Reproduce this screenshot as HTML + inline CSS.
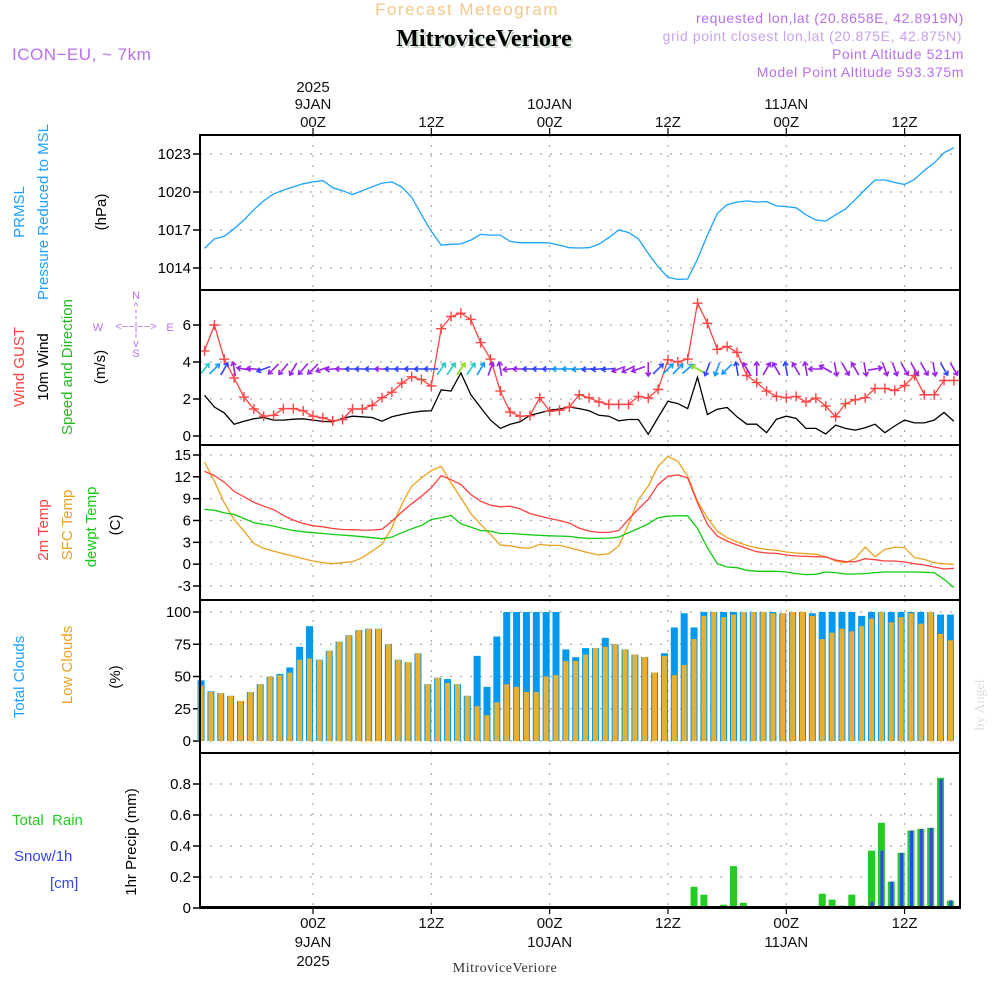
<!DOCTYPE html>
<html><head><meta charset="utf-8"><style>
html,body{margin:0;padding:0;background:#fff;}
svg{display:block;font-family:"Liberation Sans",sans-serif;}
</style></head><body>
<svg id="svg" width="1000" height="1000" viewBox="0 0 1000 1000" xmlns="http://www.w3.org/2000/svg">
<g>
<text x="467" y="15" text-anchor="middle" font-size="17" fill="#f2c98a" letter-spacing="1.5">Forecast Meteogram</text>
<text x="486" y="48" text-anchor="middle" font-size="24" font-weight="bold" font-family="Liberation Serif,serif" fill="#c8d8c8">MitroviceVeriore</text>
<text x="484" y="46" text-anchor="middle" font-size="24" font-weight="bold" font-family="Liberation Serif,serif" fill="#000">MitroviceVeriore</text>
<text x="12" y="60" font-size="17" fill="#b870f0" letter-spacing="0.5">ICON−EU, ~ 7km</text>
<g font-size="14" fill="#b870f0" text-anchor="end" letter-spacing="0.6">
<text x="964" y="23">requested lon,lat (20.8658E, 42.8919N)</text>
<text x="962" y="41" fill="#c9a0f0">grid point closest lon,lat (20.875E, 42.875N)</text>
<text x="964" y="59">Point Altitude 521m</text>
<text x="964" y="77">Model Point Altitude 593.375m</text>
</g>
</g>
<g id="plots"></g>
<g id="labels" font-size="15"></g>
</svg>
<script>
const pressure=[1015.55,1016.3,1016.5,1017.1,1017.8,1018.6,1019.3,1019.85,1020.15,1020.4,1020.65,1020.8,1020.9,1020.35,1020.1,1019.8,1020.1,1020.4,1020.7,1020.8,1020.4,1019.6,1018.2,1016.9,1015.8,1015.87,1015.9,1016.2,1016.65,1016.6,1016.6,1016.1,1016.0,1016.0,1016.0,1015.97,1015.8,1015.6,1015.58,1015.6,1015.87,1016.4,1017.0,1016.8,1016.3,1015.15,1014.1,1013.26,1013.1,1013.13,1014.7,1016.6,1018.3,1019.0,1019.2,1019.3,1019.2,1019.25,1018.9,1018.85,1018.75,1018.2,1017.8,1017.7,1018.2,1018.65,1019.4,1020.2,1020.95,1020.95,1020.75,1020.6,1021.0,1021.7,1022.3,1023.1,1023.5];
const gust=[4.6,6.0,4.15,3.14,2.1,1.46,1.07,1.12,1.48,1.48,1.36,1.07,0.98,0.82,0.89,1.46,1.46,1.66,2.07,2.37,2.86,3.2,3.05,2.71,5.8,6.46,6.64,6.3,5.05,4.16,2.43,1.29,1.07,1.1,2.07,1.34,1.39,1.57,2.23,2.07,1.84,1.71,1.71,1.71,2.14,2.05,2.52,4.12,4.0,4.16,7.18,6.09,4.68,4.84,4.52,3.27,2.89,2.43,2.14,2.07,2.14,1.84,2.05,1.62,1.04,1.75,1.96,2.07,2.57,2.57,2.46,2.73,3.27,2.23,2.23,3.0,3.0];
const wind10=[2.2,1.57,1.25,0.64,0.8,0.93,1.0,0.86,0.86,0.91,0.93,0.86,0.79,0.77,0.95,1.07,1.04,1.0,0.8,1.04,1.16,1.27,1.34,1.36,2.5,2.43,3.41,2.23,1.54,0.86,0.41,0.63,0.77,1.12,1.25,1.39,1.46,1.57,1.48,1.36,1.12,1.07,0.82,0.89,0.89,0.09,1.0,1.88,1.75,1.48,3.18,1.16,1.45,1.54,1.04,0.64,0.64,0.18,0.91,1.07,0.95,0.41,0.41,0.11,0.59,0.41,0.32,0.45,0.64,0.18,0.54,0.86,0.71,0.71,0.86,1.27,0.8];
const windDir=[50,45,60,100,170,175,200,225,230,240,230,225,200,185,180,180,180,180,180,180,180,180,180,180,55,55,55,55,60,70,100,185,180,180,180,180,180,180,185,185,185,185,200,205,200,270,45,45,45,40,150,250,250,225,100,120,90,60,120,100,120,100,180,150,280,300,120,280,10,290,290,300,300,300,280,300,300];
const temp2m=[12.76,12.17,11.26,10.0,9.25,8.5,7.97,7.5,6.7,6.05,5.6,5.27,5.14,4.9,4.77,4.73,4.68,4.68,4.8,5.9,7.15,8.3,9.34,10.5,12.17,11.6,10.94,9.57,8.65,8.1,7.88,7.97,7.6,6.96,6.6,6.28,6.0,5.64,4.95,4.54,4.36,4.36,4.63,6.14,7.6,8.88,10.94,12.08,12.26,11.85,8.42,5.46,3.86,3.17,2.63,2.17,1.71,1.53,1.48,1.26,1.12,1.07,1.03,0.98,0.57,0.34,0.34,0.75,0.62,0.43,0.43,0.3,0.07,-0.11,-0.39,-0.66,-0.57];
const tempSfc=[14.04,11.4,8.42,6.14,4.54,2.85,2.17,1.8,1.44,1.12,0.75,0.43,0.2,0.07,0.2,0.34,0.89,1.8,2.72,5.0,8.2,10.7,11.85,12.85,13.45,11.16,9.1,6.96,5.46,4.09,2.63,2.53,2.26,2.21,2.72,2.58,2.58,2.26,1.9,1.53,1.26,1.44,2.49,5.46,8.88,10.7,13.45,14.82,14.13,12.08,8.65,6.37,4.54,3.63,3.04,2.58,2.26,2.03,1.9,1.67,1.53,1.44,1.35,1.03,0.43,0.2,0.8,2.35,1.03,2.03,2.35,2.26,0.89,0.66,0.2,0.07,-0.02];
const dewpt=[7.51,7.42,7.05,6.83,6.28,5.68,5.46,5.23,4.9,4.63,4.45,4.32,4.22,4.09,4.0,3.9,3.77,3.63,3.5,3.72,4.32,4.86,5.32,6.14,6.37,6.69,5.55,5.09,4.63,4.54,4.22,4.22,4.13,4.04,3.95,3.9,3.86,3.81,3.63,3.54,3.54,3.58,3.72,4.32,4.9,5.55,6.37,6.6,6.64,6.64,4.9,2.26,0.07,-0.39,-0.48,-0.84,-0.98,-0.98,-0.98,-1.07,-1.3,-1.44,-1.39,-1.07,-1.16,-1.35,-1.35,-1.3,-1.16,-1.07,-1.07,-1.07,-1.07,-1.12,-1.16,-2.08,-3.2];
const totalClouds=[47,38.5,37,35,31,38,44,50,52,57,73,89,63,70,77,82,86,87,87,75,63,61,68,44,49,48,44,35,66,42,81,100,100,100,100,100,100,71,65,72,72,80,75,71,67,65,53,68,88,99,88,100,100,100,100,100,100,100,100,99,100,100,99,100,100,100,100,97,100,100,100,100,100,100,100,98,98];
const lowClouds=[43,38,37,35,31,38,44,50,51,53,63,64,63,70,77,82,86,87,87,75,63,61,68,44,49,45,44,35,27,20,30,44,42,38,38,50,51,62,62,67,72,73,75,71,67,65,53,66,51,59,79,97,100,96,98,100,100,100,99,99,100,100,97,79,84,87,85,89,95,100,92,96,99,91,100,83,78];
const rain=[0,0,0,0,0,0,0,0,0,0,0,0,0,0,0,0,0,0,0,0,0,0,0,0,0,0,0,0,0,0,0,0,0,0,0,0,0,0,0,0,0,0,0,0,0,0,0,0,0,0,0.137,0.086,0,0.021,0.27,0.034,0,0,0,0,0,0,0,0.092,0.054,0.015,0.086,0.015,0.37,0.55,0.17,0.356,0.5,0.51,0.517,0.84,0.047];
const snow=[0,0,0,0,0,0,0,0,0,0,0,0,0,0,0,0,0,0,0,0,0,0,0,0,0,0,0,0,0,0,0,0,0,0,0,0,0,0,0,0,0,0,0,0,0,0,0,0,0,0,0,0,0,0,0,0,0,0,0,0,0,0,0,0,0,0,0,0,0.04,0.37,0.17,0.356,0.5,0.51,0.517,0.83,0.05];
const timeTickHours=[0,12,24,36,48,60];
const timeTickLabels=["00Z","12Z","00Z","12Z","00Z","12Z"];
const dayLabels=["9JAN","","10JAN","","11JAN",""];
const pressTicks=[1014,1017,1020,1023];
const windTicks=[0,2,4,6];
const tempTicks=[-3,0,3,6,9,12,15];
const cloudTicks=[0,25,50,75,100];
const precipTicks=[0,0.2,0.4,0.6,0.8];

const NS="http://www.w3.org/2000/svg";
const plots=document.getElementById('plots');
const labels=document.getElementById('labels');
const X0=200,X1=960;
function xT(i){return 313+9.86*(i-11);}
function xH(h){return 313+9.86*h;}
function mk(tag,attrs,parent){const e=document.createElementNS(NS,tag);for(const k in attrs)e.setAttribute(k,attrs[k]);(parent||plots).appendChild(e);return e;}
function scale(v0,y0,v1,y1){return v=>y0+(v-v0)*(y1-y0)/(v1-v0);}
const yP=scale(1014,268,1023,154);
const yW=scale(0,436,6,325);
const yTp=scale(15,455,-3,586);
const yC=scale(0,741,100,612);
const yR=scale(0,908,0.8,784);

const panels=[
 {name:'pressure',top:135,bot:290,ticks:pressTicks,y:yP,fmt:v=>v},
 {name:'wind',top:290,bot:445,ticks:windTicks,y:yW,fmt:v=>v},
 {name:'temperature',top:445,bot:600,ticks:tempTicks,y:yTp,fmt:v=>v},
 {name:'clouds',top:600,bot:753,ticks:cloudTicks,y:yC,fmt:v=>v},
 {name:'precip',top:753,bot:908,ticks:precipTicks,y:yR,fmt:v=>v===0?'0':v.toFixed(1)}
];
panels.forEach(p=>{
 const g=mk('g',{});
 
 
 p.ticks.forEach(v=>{
  const y=p.y(v);
  const l=mk('line',{x1:X0,x2:X1,y1:y,y2:y,stroke:'#aaa','stroke-width':1.2,'stroke-dasharray':'2 8'},g);
  
  
  const tk=mk('line',{x1:X0-7,x2:X0,y1:y,y2:y,stroke:'#000','stroke-width':1.5},g);
  
  
  const t=mk('text',{x:X0-9,y:y+5,'text-anchor':'end','font-size':15,fill:'#000'},g);
  t.textContent=p.fmt(v);
  
  
 });
 timeTickHours.forEach(h=>{
  const x=xH(h);
  const l=mk('line',{x1:x,x2:x,y1:p.top,y2:p.bot,stroke:'#aaa','stroke-width':1.2,'stroke-dasharray':'2 8'},g);
  
  
 });
});
function poly(arr,yf,color,name,w){
 const pts=arr.map((v,i)=>xT(i).toFixed(1)+','+yf(v).toFixed(1)).join(' ');
 const e=mk('polyline',{points:pts,fill:'none',stroke:color,'stroke-width':w||1.3});
 
 
 return e;
}
poly(pressure,yP,'#1aa3ff','pressure-line');
poly(wind10,yW,'#000','wind10m-line');
poly(gust,yW,'#ff4444','wind-gust-line');
gust.forEach((v,i)=>{
 const x=xT(i),y=yW(v);
 const m=mk('path',{d:`M${x-5},${y}H${x+5}M${x},${y-5}V${y+5}`,stroke:'#ff4444','stroke-width':1.4});
 
 
});
function wcol(s){return s<1?'#9922ee':s<1.4?'#3344ff':s<2?'#1199ff':s<3?'#22cccc':'#88dd22';}
windDir.forEach((d,i)=>{
 const x=xT(i),y=369,L=14,a=d*Math.PI/180;
 const dx=Math.cos(a)*L,dy=-Math.sin(a)*L;
 const x0=x-dx/2,y0=y-dy/2,x1=x+dx/2,y1=y+dy/2;
 const ha=4.5,b1=a+Math.PI*0.8,b2=a-Math.PI*0.8;
 const col=wcol(wind10[i]);
 const e=mk('path',{d:`M${x0},${y0}L${x1},${y1}M${x1+Math.cos(b1)*ha},${y1-Math.sin(b1)*ha}L${x1},${y1}L${x1+Math.cos(b2)*ha},${y1-Math.sin(b2)*ha}`,stroke:col,'stroke-width':1.6,fill:'none'});
 
 
});
poly(tempSfc,yTp,'#eaa320','sfc-temp-line');
poly(temp2m,yTp,'#ff4040','temp-2m-line');
poly(dewpt,yTp,'#11cc11','dewpoint-line');
totalClouds.forEach((v,i)=>{
 const x=xT(i);
 const r=mk('rect',{x:x-7,y:yC(v),width:7,height:yC(0)-yC(v),fill:'#0099ee'});
 
 
 const lv=lowClouds[i];
 const r2=mk('rect',{x:x-6,y:yC(lv),width:5,height:yC(0)-yC(lv),fill:'#e8b030'});
 
 
});
rain.forEach((v,i)=>{
 if(v<=0)return;
 const x=xT(i);
 const r=mk('rect',{x:x-7,y:yR(v),width:7,height:yR(0)-yR(v),fill:'#22cc22'});
 
 
});
snow.forEach((v,i)=>{
 if(v<=0)return;
 const x=xT(i);
 const r=mk('rect',{x:x-4.5,y:yR(v),width:3,height:yR(0)-yR(v),fill:'#3344ee'});
 
 
});
const base=mk('line',{x1:X0,x2:X1,y1:907,y2:907,stroke:'#000','stroke-width':2});


panels.forEach(p=>{
 const r=mk('rect',{x:X0,y:p.top,width:X1-X0,height:p.bot-p.top,fill:'none',stroke:'#000','stroke-width':2});
 
 
});
timeTickHours.forEach((h,k)=>{
 const x=xH(h);
 const t1=mk('line',{x1:x,x2:x,y1:128,y2:135,stroke:'#000','stroke-width':1.2},labels);
 
 
 const t2=mk('line',{x1:x,x2:x,y1:908,y2:914,stroke:'#000','stroke-width':1.2},labels);
 
 
 const a=mk('text',{x:x,y:127,'text-anchor':'middle',fill:'#111'},labels);
 a.textContent=timeTickLabels[k];
 
 
 const b=mk('text',{x:x,y:928,'text-anchor':'middle',fill:'#111'},labels);
 b.textContent=timeTickLabels[k];
 
 
 if(dayLabels[k]){
  const c=mk('text',{x:x,y:109,'text-anchor':'middle',fill:'#111'},labels);
  c.textContent=dayLabels[k];
  
  
  const d=mk('text',{x:x,y:947,'text-anchor':'middle',fill:'#111'},labels);
  d.textContent=dayLabels[k];
  
  
 }
});
</script>
<svg style="position:absolute;left:0;top:0" width="1000" height="1000">
<g font-family="Liberation Sans,sans-serif" font-size="15">
<text x="313" y="92" text-anchor="middle" fill="#111">2025</text>
<text x="313" y="966" text-anchor="middle" fill="#111">2025</text>
<text x="505" y="972" text-anchor="middle" font-size="14" font-family="Liberation Serif,serif" fill="#333" letter-spacing="0.5">MitroviceVeriore</text>
<text transform="translate(24,212) rotate(-90)" text-anchor="middle" fill="#1aa3ff">PRMSL</text>
<text transform="translate(48,212) rotate(-90)" text-anchor="middle" fill="#1aa3ff">Pressure Reduced to MSL</text>
<text transform="translate(106,212) rotate(-90)" text-anchor="middle" fill="#000">(hPa)</text>
<text transform="translate(24,367) rotate(-90)" text-anchor="middle" fill="#ff4444">Wind GUST</text>
<text transform="translate(48,367) rotate(-90)" text-anchor="middle" fill="#000">10m Wind</text>
<text transform="translate(72,367) rotate(-90)" text-anchor="middle" fill="#22bb22">Speed and Direction</text>
<text transform="translate(105,367) rotate(-90)" text-anchor="middle" fill="#000">(m/s)</text>
<g fill="#b870f0" stroke="none" font-size="11" text-anchor="middle">
<text x="136" y="299">N</text><text x="136" y="310">^</text><text x="98" y="331">W</text><text x="170" y="331">E</text>
<text x="136" y="330">&lt;−−|−−&gt;</text><text x="136" y="347">v</text><text x="136" y="357">S</text>
<line x1="136" y1="310" x2="136" y2="340" stroke="#b870f0" stroke-dasharray="3 3"/>
</g>
<text transform="translate(48,530) rotate(-90)" text-anchor="middle" fill="#ff4040">2m Temp</text>
<text transform="translate(72,525) rotate(-90)" text-anchor="middle" fill="#eaa320">SFC Temp</text>
<text transform="translate(96,527) rotate(-90)" text-anchor="middle" fill="#11cc11">dewpt Temp</text>
<text transform="translate(120,525) rotate(-90)" text-anchor="middle" fill="#000">(C)</text>
<text transform="translate(24,677) rotate(-90)" text-anchor="middle" fill="#1aa3ff">Total Clouds</text>
<text transform="translate(72,665) rotate(-90)" text-anchor="middle" fill="#eaa320">Low Clouds</text>
<text transform="translate(120,677) rotate(-90)" text-anchor="middle" fill="#000">(%)</text>
<text x="12" y="825" fill="#22cc22" xml:space="preserve">Total  Rain</text>
<text x="14" y="861" fill="#3344ee">Snow/1h</text>
<text x="50" y="888" fill="#3344ee">[cm]</text>
<text transform="translate(136,842) rotate(-90)" text-anchor="middle" fill="#000">1hr Precip (mm)</text>
<text transform="translate(984,705) rotate(-90)" text-anchor="middle" fill="#ddd" font-family="Liberation Serif,serif" font-size="14">by Angel</text>
</g>
</svg>
</body></html>
